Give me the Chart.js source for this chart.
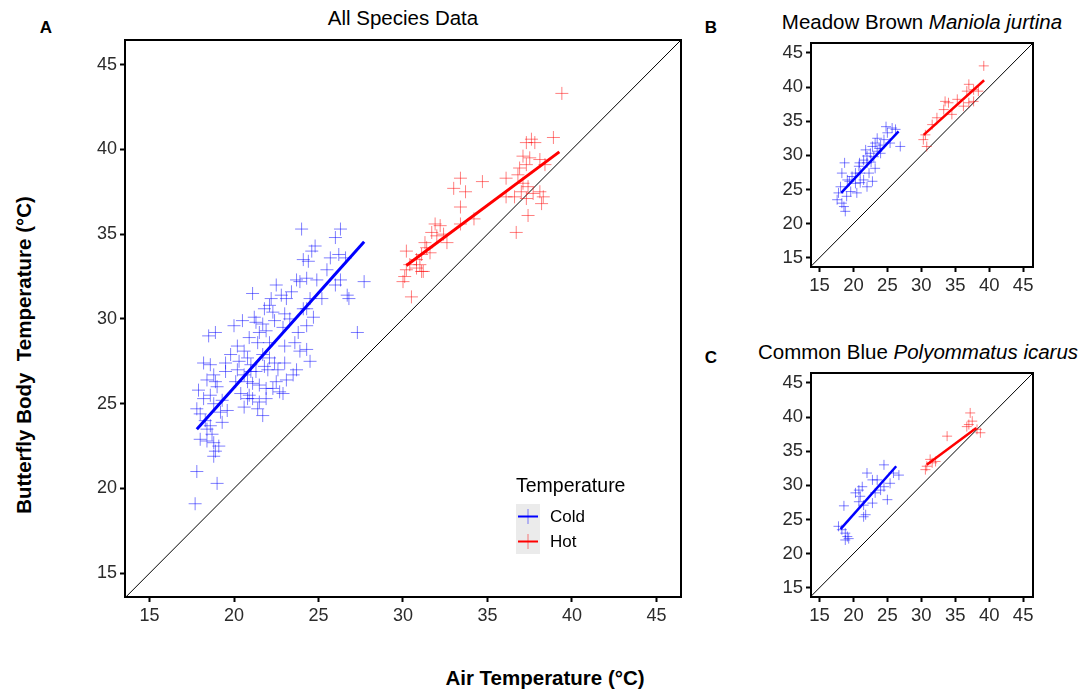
<!DOCTYPE html>
<html>
<head>
<meta charset="utf-8">
<script src="https://cdn.jsdelivr.net/npm/chart.js@4.4.0/dist/chart.umd.min.js"></script>
<style>
  body { margin: 0; background: #fff; width: 1092px; height: 690px; position: relative; overflow: hidden;
         font-family: "Liberation Sans", Arial, sans-serif; color: #000; }
  canvas { position: absolute; }
  .lbl { position: absolute; white-space: nowrap; transform: translate(-50%, -50%); }
</style>
</head>
<body>
<div class="lbl" style="left:46px;top:28px;font-weight:bold;font-size:17px">A</div>
<div class="lbl" style="left:403px;top:18px;font-size:20.5px">All Species Data</div>
<div class="lbl" style="left:711px;top:28px;font-weight:bold;font-size:17px">B</div>
<div class="lbl" style="left:922px;top:22px;font-size:20.5px">Meadow Brown <i>Maniola jurtina</i></div>
<div class="lbl" style="left:711px;top:358px;font-weight:bold;font-size:17px">C</div>
<div class="lbl" style="left:918px;top:352px;font-size:20.5px">Common Blue <i>Polyommatus icarus</i></div>
<div class="lbl" style="left:24px;top:355px;font-weight:bold;font-size:20.5px;transform:translate(-50%,-50%) rotate(-90deg)">Butterfly Body&nbsp; Temperature (°C)</div>
<div class="lbl" style="left:545px;top:678px;font-weight:bold;font-size:20.5px">Air Temperature (°C)</div>

<canvas id="panelA"></canvas>
<canvas id="panelB"></canvas>
<canvas id="panelC"></canvas>

<script>
// ---- data (air temp = x, body temp = y) ----
const tickValues = [15, 20, 25, 30, 35, 40, 45];

// A: all species
const coldAirA = [24.0,26.3,24.8,24.4,24.1,25.7,26.2,26.6,27.7,26.3,26.0,26.7,26.8,27.3,
  21.1,22.5,22.8,23.1,22.2,22.1,22.3,23.0, 23.7,23.9,24.3,24.9,24.5,24.1,24.7,24.3,
  20.5,21.3,21.7,21.9,21.5,21.4,22.1,23.0,23.6,24.3,24.5,23.9,
  18.5,18.9,18.2,18.6,19.5,19.5,18.8,18.9,18.4,19.0,17.9,18.6,18.8,19.2,19.6,17.8,18.0,18.3,18.6,18.4,18.0,18.4,18.8,19.1,18.9,18.8,17.8,19.0,17.7,
  20.2,20.6,20.8,20.3,21.0,21.3,21.7,22.1,22.4,23.0,
  20.6,20.8,21.1,21.5,21.9,22.3,22.7,20.9,21.1,21.5,21.9,21.4,20.8,21.0,22.0,22.5,23.1,23.5,
  19.8,20.1,20.4,20.9,21.2,21.8,22.4,22.9,23.3,23.8,22.6,21.8,20.6,21.7,22.9,23.7,24.3,25.2,25.5,19.3,18.7,19.3,18.2,20.0,24.6,26.0,20.2,23.4];
const coldBodyA = [35.3,35.3,34.3,33.4,33.5,33.6,33.8,33.6,32.2,32.3,32.0,31.4,31.2,29.2,
  31.5,32.0,31.4,31.2,31.2,30.8,30.4,30.3, 32.3,32.2,32.4,32.3,31.2,30.6,30.1,29.6,
  29.9,29.8,29.7,29.3,29.2,28.6,28.6,28.4,28.6,28.2,27.5,28.1,
  29.0,29.2,27.4,27.3,27.4,26.9,26.7,26.3,26.4,26.0,25.8,25.5,25.0,24.5,24.6,24.7,24.4,24.0,23.7,23.5,22.9,22.8,22.7,22.5,22.2,21.9,21.0,20.3,19.1,
  28.4,28.1,27.7,27.5,27.3,26.9,27.9,27.7,27.4,27.4,
  26.7,26.3,26.2,26.1,25.9,25.9,25.7,25.5,25.3,25.1,25.3,24.7,25.3,26.9,27.0,26.3,26.4,26.7,
  27.9,26.3,25.6,28.9,30.1,30.6,29.9,29.5,30.0,29.2,27.0,27.2,24.8,24.3,25.6,27.0,30.6,31.2,32.9,25.2,23.2,23.9,25.3,29.6,34.0,34.8,27.0,31.6];
const hotAirA = [39.4,38.9,37.6,37.8,37.3,37.1,37.5,37.3,36.9,38.1,38.4,
  36.8,37.1,37.4,37.0,37.3,37.7,38.1,38.3,38.2,36.6,36.1,36.1,37.4,36.7,
  34.7,33.4,33.0,33.7,33.4,34.2,33.4,31.9,32.2,31.7,32.0,32.4,32.6,31.3,31.4,30.2,31.1,31.6,
  30.4,30.8,30.2,31.0,31.2,30.1,30.0,30.5,30.8,31.1];
const hotBodyA = [43.3,40.7,40.6,40.4,40.4,39.6,39.5,39.1,38.9,39.4,39.1,
  38.5,38.0,37.8,37.5,37.1,37.4,37.5,37.2,36.8,37.2,38.3,37.2,36.1,35.1,
  38.1,38.3,37.7,37.5,36.6,35.9,35.6,35.6,35.5,35.1,34.9,35.0,34.5,34.5,34.2,34.0,33.8,33.9,
  33.2,33.0,32.9,33.2,32.8,32.5,32.2,31.3,33.5,32.8];
const fitColdAirA = [17.8, 27.7],  fitColdBodyA = [23.5, 34.55];
const fitHotAirA  = [30.2, 39.25], fitHotBodyA  = [33.15, 39.85];

// B: Meadow Brown
const coldAirB = [18.7,18.3,19.1,18.1,17.8,17.6,18.3,18.6,18.8,19.6,20.3,21.0,20.8,21.5,22.0,22.5,22.8,23.2,
  23.5,24.0,24.5,25.0,25.7,26.2,26.9,25.4,21.5,22.0,22.8,23.2,20.3,19.8,20.5,22.3,23.0,22.0,24.0,21.0,19.0,23.5,24.8,
  21.8,22.6,23.8,19.4,20.9];
const coldBodyB = [28.9,27.4,26.4,25.4,24.5,23.5,23.0,22.5,21.8,24.7,25.9,27.4,28.4,29.3,28.9,30.3,31.3,31.8,
  30.6,30.3,32.3,33.3,34.0,33.8,31.3,31.8,26.4,25.4,26.2,28.1,27.4,26.9,24.5,27.4,29.8,29.9,31.5,26.0,24.0,32.5,34.2,
  30.8,29.0,31.0,26.2,28.9];
const hotAirB  = [39.2,37.0,37.7,38.4,36.7,35.3,36.2,37.0,37.7,34.0,33.3,34.5,32.3,31.6,30.6,30.3,30.8,33.5];
const hotBodyB = [43.1,40.4,39.6,39.4,39.4,38.2,37.2,37.7,37.9,37.7,36.7,36.0,35.5,34.5,33.0,32.3,31.3,37.9];
const fitColdAirB = [18.2, 26.65], fitColdBodyB = [24.5, 33.5];
const fitHotAirB  = [30.35, 39.25], fitHotBodyB = [33.0, 41.0];

// C: Common Blue
const coldAirC = [17.8,18.6,18.3,18.8,19.1,18.8,19.3,20.3,20.8,21.3,21.0,20.8,21.5,21.8,
  21.5,22.0,22.8,23.5,23.2,24.0,24.5,25.0,25.4,24.5,25.9,26.7,22.8];
const coldBodyC = [24.0,27.0,23.5,23.0,22.5,22.0,22.2,28.9,29.3,29.8,28.4,27.6,27.1,25.7,
  25.4,31.8,30.8,30.8,28.9,29.3,29.8,27.9,30.3,33.0,31.8,31.5,27.4];
const hotAirC  = [37.2,37.5,37.0,36.7,38.2,38.7,33.8,31.3,31.6,30.8,30.6,32.1];
const hotBodyC = [40.6,39.4,38.9,38.6,38.2,37.7,37.2,33.8,33.3,32.8,32.3,33.5];
const fitColdAirC = [18.1, 26.3], fitColdBodyC = [23.6, 32.8];
const fitHotAirC  = [30.8, 38.1], fitHotBodyC  = [33.0, 38.4];

const FONT = '"Liberation Sans", Arial, sans-serif';
const BLUE = '#0000ff', RED = '#ff0000';
const BLUE_PT = 'rgba(0,0,255,0.5)', RED_PT = 'rgba(255,0,0,0.5)';

function pts(xs, ys) {
  return xs.map((x, i) => ({ x: x, y: ys[i] }));
}

// black box around the plotting area
const frame = {
  id: 'frame',
  afterDraw(chart) {
    const { ctx, chartArea: a } = chart;
    ctx.save();
    ctx.strokeStyle = '#000';
    ctx.lineWidth = 2;
    ctx.strokeRect(a.left, a.top, a.right - a.left, a.bottom - a.top);
    ctx.restore();
  }
};

// ggplot-like legend inside panel A
const keyLegend = {
  id: 'keyLegend',
  afterDraw(chart, args, opts) {
    if (!opts.show) return;
    const { ctx, chartArea: a } = chart;
    const x0 = a.right - 165, y0 = a.bottom - 110;
    ctx.save();
    ctx.textBaseline = 'middle';
    ctx.fillStyle = '#000';
    ctx.font = '19.5px ' + FONT;
    ctx.fillText(opts.title, x0, y0);
    opts.items.forEach((it, i) => {
      const ky = y0 + 17 + i * 25;
      ctx.fillStyle = '#ebebeb';
      ctx.fillRect(x0, ky, 24, 25);
      ctx.strokeStyle = it.faded;
      ctx.lineWidth = 1;
      ctx.beginPath(); ctx.moveTo(x0 + 12, ky + 5); ctx.lineTo(x0 + 12, ky + 20); ctx.stroke();
      ctx.strokeStyle = it.color;
      ctx.lineWidth = 2;
      ctx.beginPath(); ctx.moveTo(x0 + 2, ky + 12.5); ctx.lineTo(x0 + 22, ky + 12.5); ctx.stroke();
      ctx.fillStyle = '#000';
      ctx.font = '17px ' + FONT;
      ctx.fillText(it.label, x0 + 34, ky + 13);
    });
    ctx.restore();
  }
};

function axis(min, max, fontSize, fitKey, fitVal) {
  return {
    type: 'linear',
    min: min,
    max: max,
    afterBuildTicks: s => { s.ticks = tickValues.map(v => ({ value: v })); },
    afterFit: s => { s[fitKey] = fitVal; },
    grid: { display: true, drawOnChartArea: false, drawTicks: true, tickLength: 5,
            tickWidth: 2, tickColor: '#000', color: '#000' },
    border: { display: false },
    ticks: { color: '#2b2b2b', font: { family: FONT, size: fontSize }, padding: 3,
             autoSkip: false, maxRotation: 0 }
  };
}

function makePanel(id, p) {
  const canvas = document.getElementById(id);
  canvas.width = p.w; canvas.height = p.h;
  canvas.style.left = p.left + 'px'; canvas.style.top = p.top + 'px';
  canvas.style.width = p.w + 'px'; canvas.style.height = p.h + 'px';

  return new Chart(canvas.getContext('2d'), {
    type: 'scatter',
    data: {
      datasets: [
        { label: 'Cold', data: pts(p.coldAir, p.coldBody), pointStyle: 'cross', pointRadius: p.r,
          borderColor: BLUE_PT, borderWidth: 1, order: 1 },
        { label: 'Hot', data: pts(p.hotAir, p.hotBody), pointStyle: 'cross', pointRadius: p.r,
          borderColor: RED_PT, borderWidth: 1, order: 1 },
        { label: 'fit cold', data: pts(p.fitColdAir, p.fitColdBody), showLine: true, pointRadius: 0,
          borderColor: BLUE, borderWidth: p.lw, order: 0 },
        { label: 'fit hot', data: pts(p.fitHotAir, p.fitHotBody), showLine: true, pointRadius: 0,
          borderColor: RED, borderWidth: p.lw, order: 0 },
        { label: '1:1', data: pts([10, 50], [10, 50]), showLine: true, pointRadius: 0,
          borderColor: '#000', borderWidth: 1, order: 2 }
      ]
    },
    options: {
      responsive: false,
      animation: false,
      devicePixelRatio: 1,
      layout: { padding: { top: p.padTop, right: p.padRight, left: 0, bottom: 0 } },
      scales: {
        x: axis(p.xMin, p.xMax, p.font, 'height', p.xH),
        y: axis(p.yMin, p.yMax, p.font, 'width', p.yW)
      },
      plugins: {
        legend: { display: false },
        tooltip: { enabled: false },
        keyLegend: {
          show: p.legend,
          title: 'Temperature',
          items: [
            { label: 'Cold', color: BLUE, faded: BLUE_PT },
            { label: 'Hot', color: RED, faded: RED_PT }
          ]
        }
      }
    },
    plugins: [frame, keyLegend]
  });
}

makePanel('panelA', {
  left: 0, top: 0, w: 700, h: 627, padTop: 40, padRight: 19, xH: 30, yW: 125,
  xMin: 13.55, xMax: 46.45, yMin: 13.6, yMax: 46.45, font: 18, r: 6.5, lw: 3, legend: true,
  coldAir: coldAirA, coldBody: coldBodyA, hotAir: hotAirA, hotBody: hotBodyA,
  fitColdAir: fitColdAirA, fitColdBody: fitColdBodyA, fitHotAir: fitHotAirA, fitHotBody: fitHotBodyA
});

makePanel('panelB', {
  left: 760, top: 0, w: 332, h: 292, padTop: 43, padRight: 59, xH: 25, yW: 51,
  xMin: 13.75, xMax: 46.45, yMin: 13.65, yMax: 46.45, font: 18.5, r: 5, lw: 2.5, legend: false,
  coldAir: coldAirB, coldBody: coldBodyB, hotAir: hotAirB, hotBody: hotBodyB,
  fitColdAir: fitColdAirB, fitColdBody: fitColdBodyB, fitHotAir: fitHotAirB, fitHotBody: fitHotBodyB
});

makePanel('panelC', {
  left: 760, top: 330, w: 332, h: 292, padTop: 43, padRight: 59, xH: 25, yW: 51,
  xMin: 13.75, xMax: 46.45, yMin: 13.65, yMax: 46.45, font: 18.5, r: 5, lw: 2.5, legend: false,
  coldAir: coldAirC, coldBody: coldBodyC, hotAir: hotAirC, hotBody: hotBodyC,
  fitColdAir: fitColdAirC, fitColdBody: fitColdBodyC, fitHotAir: fitHotAirC, fitHotBody: fitHotBodyC
});
</script>
</body>
</html>
